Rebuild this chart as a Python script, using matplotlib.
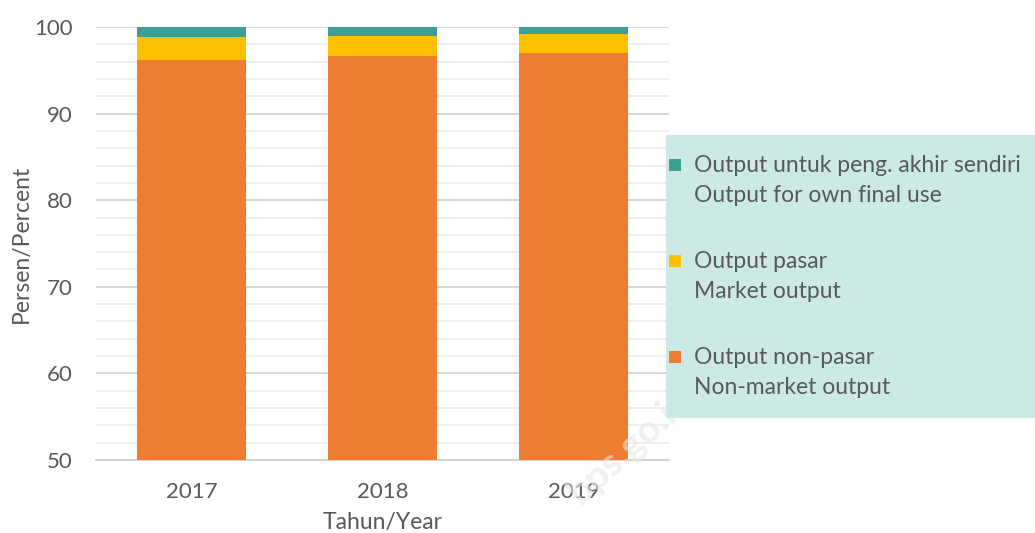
import matplotlib.pyplot as plt
import numpy as np
from matplotlib.patches import Rectangle
from matplotlib.ticker import MultipleLocator

plt.rcParams['font.family'] = ['Lato', 'DejaVu Sans']

years = ['2017', '2018', '2019']
non_market = [96.2, 96.6, 97.0]
market = [2.65, 2.4, 2.15]
own_use = [1.15, 1.0, 0.85]

labels = ['Output untuk peng. akhir sendiri\nOutput for own final use',
          'Output pasar\nMarket output',
          'Output non-pasar\nNon-market output']
colors = ['#3f9e93', '#ffc000', '#ed7d31']
txt = '#595959'

fig = plt.figure(figsize=(10.35, 5.33), dpi=100)
ax = fig.add_axes([96/1035, 73/533, (669.5-96)/1035, (460-27)/533])

x = np.arange(len(years))
w = 0.57
non_market = np.array(non_market)
market = np.array(market)
own_use = np.array(own_use)
ax.bar(x, non_market, w, color=colors[2], zorder=3)
ax.bar(x, market, w, bottom=non_market, color=colors[1], zorder=3)
ax.bar(x, own_use, w, bottom=non_market + market, color=colors[0], zorder=3)

ax.set_ylim(50, 100)
ax.set_xlim(-0.5, 2.5)
ax.yaxis.set_major_locator(MultipleLocator(10))
ax.yaxis.set_minor_locator(MultipleLocator(2))
ax.grid(axis='y', which='major', color='#cfcfcf', lw=1.2, zorder=0)
ax.grid(axis='y', which='minor', color='#ececec', lw=1.2, zorder=0)
for s in ['top', 'right', 'left']:
    ax.spines[s].set_visible(False)
ax.spines['bottom'].set_color('#d0d0d0')
ax.spines['bottom'].set_linewidth(1.2)
ax.set_xticks(x)
ax.set_xticklabels(years)
ax.tick_params(axis='both', which='both', length=0, labelsize=16, colors=txt)
ax.tick_params(axis='y', pad=17)
ax.tick_params(axis='x', pad=16)
ax.set_ylabel('Persen/Percent', fontsize=16.5, color=txt, labelpad=1)
ax.set_xlabel('Tahun/Year', fontsize=16.5, color=txt, labelpad=7)

# legend panel
W, H = 1035, 533
fig.add_artist(Rectangle((666/W, 1-418/H), (W-666)/W, (418-135)/H,
                         transform=fig.transFigure, facecolor='#cde9e6',
                         edgecolor='none', zorder=1))
for i, (lab, c) in enumerate(zip(labels, colors)):
    yc = 165 + i*96
    fig.add_artist(Rectangle((669/W, 1-(yc+6)/H), 12/W, 12/H,
                             transform=fig.transFigure, facecolor=c,
                             edgecolor='none', zorder=2))
    fig.text(694/W, 1-(yc-10)/H, lab, fontsize=16.5, color=txt, va='top',
             ha='left', linespacing=1.55, zorder=3)

# watermark
fig.text(630/W, 1-445/H, 'bps.go.id', fontsize=28, color='#e6e6e6',
         rotation=42, ha='center', va='center', alpha=0.6, zorder=0,
         fontweight='bold')

fig.savefig('out.png', dpi=100)
